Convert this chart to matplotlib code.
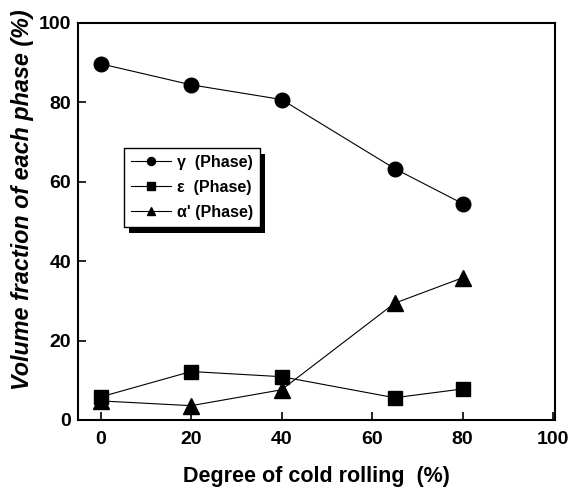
import numpy as np
import matplotlib.pyplot as plt
from matplotlib.patches import Rectangle

# degree of cold rolling (%)
rolling = [0, 20, 40, 65, 80]
# volume fraction of each phase (%)
gamma = [89.7, 84.4, 80.7, 63.3, 54.5]
epsilon = [5.8, 12.2, 10.9, 5.6, 7.8]
alpha = [4.8, 3.6, 7.6, 29.4, 35.8]

plt.rcParams['font.family'] = ['Liberation Sans', 'DejaVu Sans']
plt.rcParams['font.weight'] = 'bold'

fig = plt.figure(figsize=(5.71, 4.97), dpi=100)
ax = fig.add_axes([0.1366, 0.155, 0.835, 0.799])

ax.plot(rolling, gamma, 'k-', marker='o', ms=10.5, lw=0.8, label='γ  (Phase)')
ax.plot(rolling, epsilon, 'k-', marker='s', ms=9.5, lw=0.8, label='ε  (Phase)')
ax.plot(rolling, alpha, 'k-', marker='^', ms=11.5, lw=0.8, label="α' (Phase)")

ax.set_xlim(-5.0, 100.4)
ax.set_ylim(0, 100)
ax.set_xticks([0, 20, 40, 60, 80, 100])
ax.set_yticks([0, 20, 40, 60, 80, 100])
ax.tick_params(direction='in', length=6, width=1.2, labelsize=14)
ax.tick_params(axis='x', pad=8)
ax.tick_params(axis='y', pad=5)
for lab in ax.get_xticklabels() + ax.get_yticklabels():
    lab.set_fontweight('bold')
for s in ax.spines.values():
    s.set_linewidth(1.5)

ax.set_xlabel('Degree of cold rolling  (%)', fontsize=15.5, fontweight='bold')
ax.xaxis.set_label_coords(0.5, -0.115)
ax.set_ylabel('Volume fraction of each phase (%)', fontsize=16.8, fontweight='bold',
              style='italic')
ax.yaxis.set_label_coords(-0.092, 0.554)

leg = ax.legend(loc='upper left', bbox_to_anchor=(0.097, 0.686), fontsize=11.5,
                markerscale=0.55, handlelength=2.5, handletextpad=0.35,
                labelspacing=0.62, fancybox=False, framealpha=1, borderpad=0.45,
                borderaxespad=0)
leg.get_frame().set_edgecolor('black')
leg.get_frame().set_linewidth(1.0)
for t in leg.get_texts():
    t.set_fontweight('bold')

# heavy black drop shadow behind the legend box
fig.canvas.draw()
bb = leg.get_frame().get_window_extent().transformed(fig.transFigure.inverted())
dx, dy = 5 / 571, 6 / 497
shadow = Rectangle((bb.x0 + dx, bb.y0 - dy), bb.width, bb.height,
                   transform=fig.transFigure, facecolor='black', edgecolor='none',
                   zorder=4.9, clip_on=False)
ax.add_artist(shadow)

fig.savefig('out.png', dpi=100)
